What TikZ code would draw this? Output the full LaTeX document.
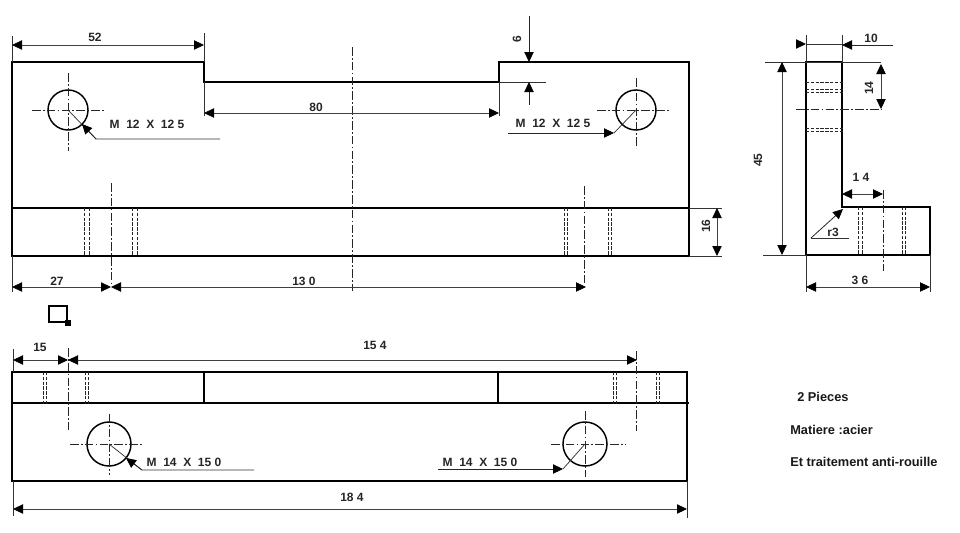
\documentclass[tikz,border=0pt]{standalone}
\usepackage{fontspec}
\setmainfont{Liberation Sans}
\usetikzlibrary{arrows.meta}
\tikzset{
	outline/.style={line width=1.1pt, line join=miter},
	hidden/.style={line width=0.5pt, dash pattern=on 2.6pt off 1pt, color=black!85},
	axisline/.style={line width=0.5pt, dash pattern=on 6.5pt off 1.6pt on 1.4pt off 1.6pt, color=black!85},
	thinline/.style={line width=0.55pt, color=black!80},
	dimline/.style={line width=0.6pt, color=black!75, {Triangle[length=7.5pt,width=7pt,black]}-{Triangle[length=7.5pt,width=7pt,black]}},
	leader/.style={line width=0.6pt, color=black!85, -{Triangle[length=7.5pt,width=7pt,black]}},
	dimtext/.style={font=\fontsize{9}{10}\selectfont\bfseries, inner sep=0pt, color=black!85},
	notetext/.style={font=\fontsize{9.6}{11}\selectfont\bfseries, inner sep=0pt, anchor=west, color=black!90}
}
\begin{document}
\begin{tikzpicture}[x=0.75pt, y=-0.75pt]
		\useasboundingbox (0, 0) rectangle (960, 532);
		%%%%% START %%%%%
		
		% front view
		\draw[outline] (12, 62) -- (204, 62) -- (204, 82) -- (499, 82) -- (499, 62) -- (689, 62) -- (689, 256) -- (12, 256) -- cycle;
		\draw[outline] (12, 208) -- (689, 208);
		
		\draw[outline] (68, 110) circle (20);
		\draw[axisline] (32, 110) -- (104, 110);
		\draw[axisline] (68, 73) -- (68, 151);
		\draw[outline] (636, 110) circle (20);
		\draw[axisline] (597, 110) -- (669, 110);
		\draw[axisline] (636, 78) -- (636, 148);
		\draw[axisline] (352, 47) -- (352, 291);
		\draw[axisline] (111, 183) -- (111, 285);
		\draw[axisline] (584, 186) -- (584, 285);
		
		\foreach \holex in {84, 89, 132, 137, 564, 567, 608, 611}
			\draw[hidden] (\holex, 208) -- (\holex, 255);
		
		% dimensions of the front view
		\draw[thinline] (12, 36) -- (12, 62);
		\draw[thinline] (204, 33) -- (204, 62);
		\draw[dimline] (12, 45) -- (204, 45);
		\node[dimtext] (lblA) at (95, 37) {52};
		
		\draw[thinline] (204, 82) -- (204, 116);
		\draw[thinline] (499, 82) -- (499, 116);
		\draw[dimline] (204, 113) -- (499, 113);
		\node[dimtext] (lblB) at (316, 107) {80};
		
		\draw[thinline] (499, 82) -- (546, 82);
		\draw[leader] (529, 16) -- (529, 62);
		\draw[leader] (529, 105) -- (529, 82);
		\node[dimtext, rotate=90] (lblC) at (517, 39) {6};
		
		\draw[thinline] (68, 110) -- (96, 139) -- (220, 139);
		\draw[leader] (96, 139) -- (82, 124);
		\node[dimtext] (lblD) at (147, 124) {M\ \ 12\ \ X\ \ 12 5};
		\draw[thinline] (614, 133) -- (636, 110);
		\draw[leader] (508, 133) -- (614, 133);
		\node[dimtext] (lblE) at (553, 123) {M\ \ 12\ \ X\ \ 12 5};
		
		\draw[thinline] (12, 256) -- (12, 292);
		\draw[dimline] (12, 287) -- (111, 287);
		\draw[dimline] (111, 287) -- (586, 287);
		\node[dimtext] (lblF) at (57, 281) {27};
		\node[dimtext] (lblG) at (304, 281) {13 0};
		
		\draw[thinline] (689, 208) -- (722, 208);
		\draw[thinline] (689, 256) -- (722, 256);
		\draw[dimline] (717, 208) -- (717, 256);
		\node[dimtext, rotate=90] (lblH) at (706, 226) {16};
		
		% small square mark
		\draw[line width=1.5pt] (49, 306) rectangle (67, 322);
		\draw[fill=black] (65, 320) rectangle (70, 325);
		
		% side view
		\draw[outline] (806, 62) -- (842, 62) -- (842, 207) -- (930, 207) -- (930, 255) -- (806, 255) -- cycle;
		\foreach \holey in {82, 89, 92, 128, 131}
			\draw[hidden] (806, \holey) -- (843, \holey);
		\foreach \holex in {858, 862, 902, 905}
			\draw[hidden] (\holex, 207) -- (\holex, 255);
		\draw[axisline] (796, 109) -- (881, 109);
		\draw[axisline] (883, 190) -- (883, 271);
		
		\draw[thinline] (806, 35) -- (806, 62);
		\draw[thinline] (842, 35) -- (842, 62);
		\draw[leader] (796, 44) -- (806, 44);
		\draw[thinline] (806, 44) -- (842, 44);
		\draw[leader] (893, 45) -- (842, 45);
		\node[dimtext] (lblI) at (871, 38) {10};
		
		\draw[thinline] (765, 62) -- (881, 62);
		\draw[thinline] (763, 255) -- (806, 255);
		\draw[dimline] (782, 62) -- (782, 255);
		\node[dimtext, rotate=90] (lblJ) at (758, 160) {45};
		
		\draw[dimline] (881, 64) -- (881, 109);
		\node[dimtext, rotate=90] (lblK) at (869, 88) {14};
		
		\draw[dimline] (842, 194) -- (883, 194);
		\node[dimtext] (lblL) at (861, 177) {1 4};
		
		\draw[thinline] (849, 238) -- (811, 238);
		\draw[leader] (811, 238) -- (843, 209);
		\node[dimtext] (lblM) at (833, 232) {r3};
		
		\draw[thinline] (806, 255) -- (806, 292);
		\draw[thinline] (930, 255) -- (930, 292);
		\draw[dimline] (806, 287) -- (930, 287);
		\node[dimtext] (lblN) at (860, 280) {3 6};
		
		% bottom view
		\draw[outline] (12, 372) rectangle (687, 481);
		\draw[outline] (12, 403) -- (689, 403);
		\draw[outline] (204, 372) -- (204, 403);
		\draw[outline] (498, 372) -- (498, 403);
		
		\draw[outline] (109, 444) circle (22);
		\draw[axisline] (70, 444) -- (142, 444);
		\draw[axisline] (109, 414) -- (109, 475);
		\draw[outline] (585, 444) circle (22);
		\draw[axisline] (551, 444) -- (626, 444);
		\draw[axisline] (585, 411) -- (585, 477);
		\draw[axisline] (68, 348) -- (68, 430);
		\draw[axisline] (636, 351) -- (636, 431);
		
		\foreach \holex in {43, 46, 85, 88, 613, 616, 656, 659}
			\draw[hidden] (\holex, 372) -- (\holex, 405);
		
		% dimensions of the bottom view
		\draw[thinline] (13, 349) -- (13, 372);
		\draw[dimline] (13, 360) -- (68, 360);
		\draw[dimline] (68, 360) -- (637, 360);
		\node[dimtext] (lblO) at (40, 347) {15};
		\node[dimtext] (lblP) at (375, 345) {15 4};
		
		\draw[thinline] (109, 444) -- (142, 470) -- (254, 470);
		\draw[leader] (142, 470) -- (126, 458);
		\node[dimtext] (lblQ) at (184, 462) {M\ \ 14\ \ X\ \ 15 0};
		\draw[thinline] (563, 469) -- (585, 444);
		\draw[leader] (438, 469) -- (563, 469);
		\node[dimtext] (lblR) at (480, 462) {M\ \ 14\ \ X\ \ 15 0};
		
		\draw[thinline] (13, 481) -- (13, 516);
		\draw[thinline] (687, 481) -- (687, 518);
		\draw[dimline] (13, 509) -- (687, 509);
		\node[dimtext] (lblS) at (352, 497) {18 4};
		
		% notes
		\node[notetext] (noteA) at (797, 397) {2 Pieces};
		\node[notetext] (noteB) at (790, 430) {Matiere :acier};
		\node[notetext] (noteC) at (790, 462) {Et traitement anti-rouille};
		
		%%%%% END %%%%%
	\end{tikzpicture}
\end{document}
